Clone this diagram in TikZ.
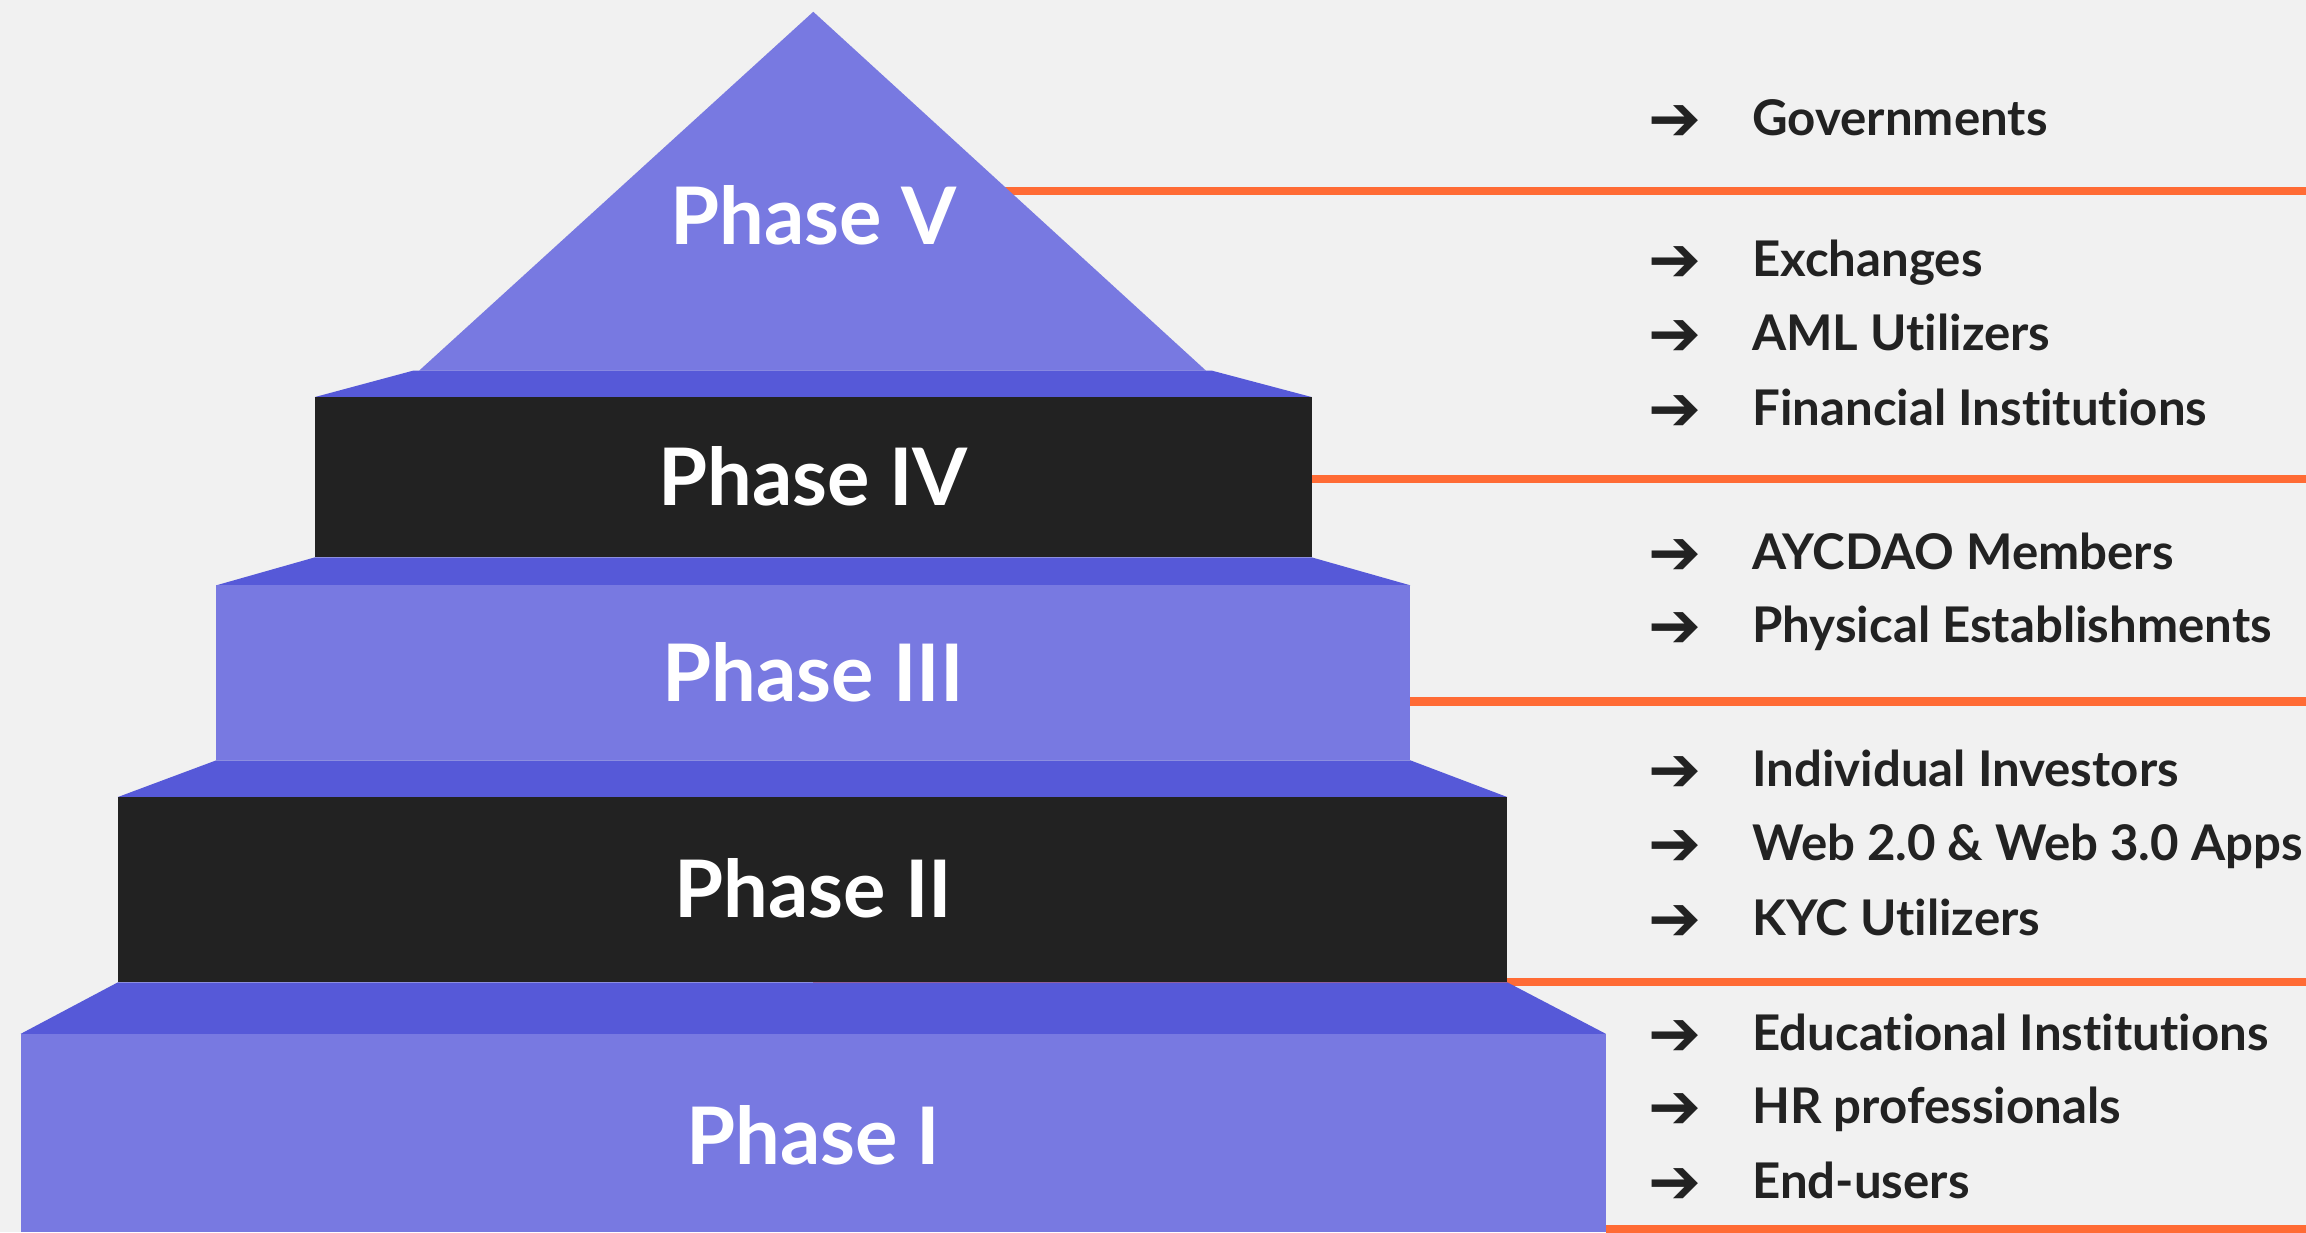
\documentclass[tikz,border=0pt]{standalone}
\usepackage{fontspec}
\setmainfont{Lato}[Ligatures=NoCommon]
\newfontfamily\arrowfont{DejaVu Sans}

\definecolor{pagebg}{HTML}{F1F1F1}
\definecolor{phaselight}{HTML}{7879E1}
\definecolor{phasebevel}{HTML}{5659D8}
\definecolor{phasedark}{HTML}{222222}
\definecolor{sepline}{HTML}{FF6B35}
\definecolor{ink}{HTML}{222222}

\tikzset{
	phasename/.style={text=white, font=\fontsize{22.6}{26}\selectfont\bfseries, anchor=base, inner sep=0pt},
	audience/.style={text=ink, font=\fontsize{14}{17}\selectfont\bfseries, anchor=base west, inner sep=0pt,
		text height=10pt, text depth=3pt,
		label={[text=ink, inner sep=0pt, label distance=14pt]left:{\arrowfont\fontsize{18}{20}\selectfont ➔}}},
	separator/.style={draw=sepline, line width=2.3pt}
}

\begin{document}
\begin{tikzpicture}[x=0.014707cm, y=-0.014707cm]

	\fill[pagebg] (0,0) rectangle (1568,838);
	\useasboundingbox (0,0) rectangle (1568,838);

	% separators, behind the pyramid
	\path[separator] (553,130) -- (1568,130);
	\path[separator] (553,326) -- (1568,326);
	\path[separator] (553,477) -- (1568,477);
	\path[separator] (553,668) -- (1568,668);
	\path[separator] (1092,836) -- (1568,836);

	% top
	\fill[phaselight] (553,8) -- (820,252) -- (285,252) -- cycle;
	\fill[phasebevel] (281,252) -- (824,252) -- (892,270) -- (214,270) -- cycle;
	% steps
	\fill[phasedark]  (214,270) rectangle (892,379);
	\fill[phasebevel] (214,379) -- (892,379) -- (959,398) -- (147,398) -- cycle;
	\fill[phaselight] (147,398) rectangle (959,517);
	\fill[phasebevel] (147,517) -- (959,517) -- (1025,542) -- (80,542) -- cycle;
	\fill[phasedark]  (80,542) rectangle (1025,668);
	\fill[phasebevel] (80,668) -- (1025,668) -- (1092,703) -- (14,703) -- cycle;
	\fill[phaselight] (14,703) rectangle (1092,838);

	\node[phasename] (p5) at (553,166) {Phase V};
	\node[phasename] (p4) at (553,344) {Phase IV};
	\node[phasename] (p3) at (553,477) {Phase III};
	\node[phasename] (p2) at (553,624) {Phase II};
	\node[phasename] (p1) at (553,792) {Phase I};

	\node[audience] (gov)  at (1191,92)  {Governments};

	\node[audience] (exch) at (1191,188) {Exchanges};
	\node[audience] (aml)  at (1191,238) {AML Utilizers};
	\node[audience] (fin)  at (1191,289) {Financial Institutions};

	\node[audience] (dao)  at (1191,387) {AYCDAO Members};
	\node[audience] (phys) at (1191,437) {Physical Establishments};

	\node[audience] (inv)  at (1191,535) {Individual Investors};
	\node[audience] (web)  at (1191,585) {Web 2.0 \& Web 3.0 Apps};
	\node[audience] (kyc)  at (1191,636) {KYC Utilizers};

	\node[audience] (edu)  at (1191,714) {Educational Institutions};
	\node[audience] (hr)   at (1191,764) {HR professionals};
	\node[audience] (end)  at (1191,815) {End-users};

\end{tikzpicture}
\end{document}
